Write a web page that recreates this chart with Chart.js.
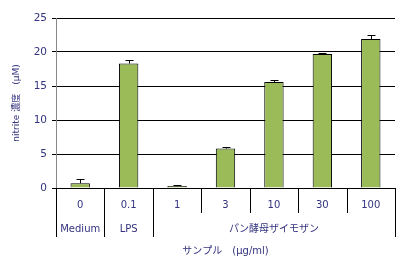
<!DOCTYPE html>
<html>
<head>
<meta charset="utf-8">
<script src="https://cdn.jsdelivr.net/npm/chart.js@4"></script>
<style>
  html, body { margin: 0; padding: 0; background: #fff; }
  #wrap { width: 405px; height: 268px; }
</style>
</head>
<body>
<div id="wrap"><canvas id="nitriteChart" width="405" height="268"></canvas></div>
<script>
// Input data
const doses = ['0', '0.1', '1', '3', '10', '30', '100']; // first row of x labels
const groups = ['Medium', 'LPS', 'パン酵母ザイモザン']; // second row of x labels
const groupSpans = [[0, 0], [1, 1], [2, 6]]; // which columns each group covers
const nitrite = [0.7, 18.3, 0.3, 5.8, 15.6, 19.7, 21.9]; // mean values
const errors = [0.6, 0.5, 0.15, 0.3, 0.25, 0.2, 0.6]; // error bar heights
const yTicks = [0, 5, 10, 15, 20, 25];

const textColor = '#33337f';
const fontFamily = '"DejaVu Sans", "Noto Sans CJK JP", sans-serif';

// Error bars, separators and group labels under the axis
const extrasPlugin = {
  id: 'extras',
  afterDatasetsDraw(chart) {
    const ctx = chart.ctx;
    const y = chart.scales.y;
    const meta = chart.getDatasetMeta(0);

    ctx.save();
    ctx.strokeStyle = '#000';
    ctx.lineWidth = 1;
    for (let i = 0; i < nitrite.length; i++) {
      const cx = Math.round(meta.data[i].x) + 0.5;
      const yTop = y.getPixelForValue(nitrite[i]);
      const yErr = Math.round(y.getPixelForValue(nitrite[i] + errors[i])) + 0.5;
      ctx.beginPath();
      ctx.moveTo(cx, yTop);
      ctx.lineTo(cx, yErr);
      ctx.moveTo(cx - 4, yErr);
      ctx.lineTo(cx + 4, yErr);
      ctx.stroke();
    }
    ctx.restore();
  },
  afterDraw(chart) {
    const ctx = chart.ctx;
    const x = chart.scales.x;
    const area = chart.chartArea;
    const row1 = area.bottom + 25;
    const row2 = area.bottom + 49;

    // boundaries that reach down through the group row
    const longLines = [0];
    groupSpans.forEach(s => longLines.push(s[1] + 1));

    ctx.save();
    ctx.strokeStyle = '#000';
    ctx.lineWidth = 1;
    for (let b = 0; b <= doses.length; b++) {
      const bx = Math.round(x.getPixelForValue(b - 0.5)) + 0.5;
      ctx.beginPath();
      ctx.moveTo(bx, area.bottom);
      ctx.lineTo(bx, longLines.includes(b) ? row2 : row1);
      ctx.stroke();
    }

    ctx.fillStyle = textColor;
    ctx.font = '10px ' + fontFamily;
    ctx.textAlign = 'center';
    ctx.textBaseline = 'middle';
    groups.forEach((g, i) => {
      const x0 = x.getPixelForValue(groupSpans[i][0]);
      const x1 = x.getPixelForValue(groupSpans[i][1]);
      ctx.fillText(g, (x0 + x1) / 2, area.bottom + 41);
    });
    ctx.restore();
  }
};

const ctx = document.getElementById('nitriteChart').getContext('2d');
new Chart(ctx, {
  type: 'bar',
  data: {
    labels: doses,
    datasets: [
      {
        data: nitrite,
        backgroundColor: '#9bbb59',
        borderColor: '#000',
        borderWidth: 1,
        categoryPercentage: 1,
        barPercentage: 0.4,
      },
    ],
  },
  options: {
    responsive: false,
    animation: false,
    layout: { padding: { top: 18, right: 10, left: 7, bottom: 0 } },
    plugins: {
      legend: { display: false },
      tooltip: { enabled: false },
    },
    scales: {
      x: {
        grid: { display: false },
        border: { display: true, color: '#000' },
        ticks: {
          color: textColor,
          font: { family: fontFamily, size: 10 },
          padding: 3,
          maxRotation: 0,
        },
        title: {
          display: true,
          text: 'サンプル　(μg/ml)',
          color: textColor,
          font: { family: fontFamily, size: 10 },
          padding: { top: 0, bottom: 11 },
        },
        afterFit(scale) {
          scale.height = 80;
        },
      },
      y: {
        min: 0,
        max: 25,
        afterBuildTicks(scale) {
          scale.ticks = yTicks.map(v => ({ value: v }));
        },
        grid: { color: '#000', lineWidth: 1, tickLength: 4 },
        border: { display: true, color: '#888' },
        ticks: {
          color: textColor,
          font: { family: fontFamily, size: 10.5 },
          padding: 5,
        },
        title: {
          display: true,
          text: 'nitrite 濃度　(μM)',
          color: textColor,
          font: { family: fontFamily, size: 9 },
          padding: { top: 4, bottom: 0 },
        },
        afterFit(scale) {
          scale.width = 49;
        },
      },
    },
  },
  plugins: [extrasPlugin],
});
</script>
</body>
</html>
